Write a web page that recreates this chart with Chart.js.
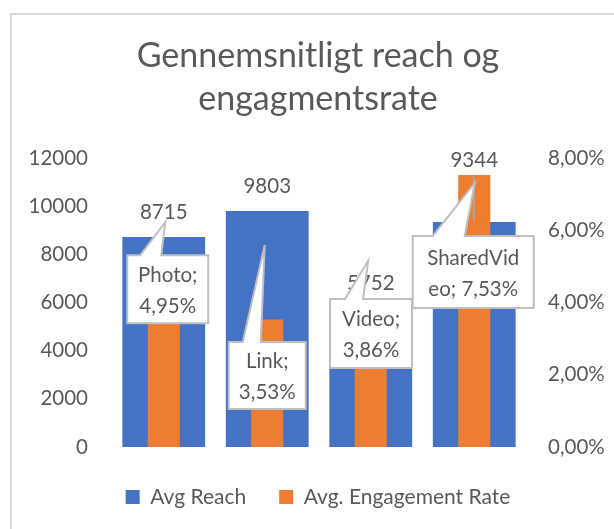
<!DOCTYPE html>
<html>
<head>
<meta charset="utf-8">
<script src="https://cdn.jsdelivr.net/npm/chart.js@4.4.1/dist/chart.umd.min.js"></script>
<style>
  html, body { margin: 0; padding: 0; background: #fff; overflow: hidden; }
  #chart { display: block; }
</style>
</head>
<body>
<canvas id="chart" width="614" height="529"></canvas>
<script>
// Chart data
const categories = ['Photo', 'Link', 'Video', 'SharedVideo'];
const avgReach = [8715, 9803, 5752, 9344];
const engagementRate = [4.95, 3.53, 3.86, 7.53]; // percent
const reachTicks = [0, 2000, 4000, 6000, 8000, 10000, 12000];
const rateTicks = [0, 2, 4, 6, 8];

const TEXT = '#595959';
const FONT = 'Lato';

// how far above each blue bar the value label sits
const reachLabelLift = [25, 25, 25, 62];

// callout boxes, relative to the top centre of each orange bar
const calloutLayout = [
  { dx: 4, dy: 21, w: 81, h: 68, tip: [1.5, -46], base: [13, 34], wrap: 70 },
  { dx: 0, dy: 56, w: 77, h: 67, tip: [-2.5, -74.5], base: [14, 32], wrap: 62 },
  { dx: 0.3, dy: 26, w: 82, h: 69, tip: [-2.5, -47], base: [15, 33], wrap: 70 },
  { dx: -1, dy: 97, w: 121, h: 72, tip: [0.5, 8], base: [20, 52], wrap: 96, leader: [1.7, 45] }
];

const pct = v => v.toFixed(2).replace('.', ',') + '%';

function wrapText(ctx, text, maxW) {
  const lines = [];
  let cur = '';
  text.split(' ').forEach(word => {
    const test = cur ? cur + ' ' + word : word;
    if (ctx.measureText(test).width <= maxW) {
      cur = test;
      return;
    }
    if (cur) lines.push(cur);
    cur = word;
    while (ctx.measureText(cur).width > maxW) {
      let n = cur.length - 1;
      while (n > 1 && ctx.measureText(cur.slice(0, n)).width > maxW) n--;
      lines.push(cur.slice(0, n));
      cur = cur.slice(n);
    }
  });
  if (cur) lines.push(cur);
  return lines;
}

const frame = {
  id: 'frame',
  beforeDraw(chart) {
    const { ctx } = chart;
    ctx.save();
    ctx.fillStyle = '#fff';
    ctx.fillRect(0, 0, chart.width, chart.height);
    ctx.strokeStyle = '#d9d9d9';
    ctx.lineWidth = 2;
    ctx.strokeRect(11, 14, 700, 600);
    ctx.restore();
  }
};

const labels = {
  id: 'labels',
  afterDatasetsDraw(chart) {
    const { ctx } = chart;
    ctx.save();
    ctx.font = `20.5px ${FONT}`;
    ctx.fillStyle = TEXT;
    ctx.textAlign = 'center';
    ctx.textBaseline = 'middle';

    // reach values above the blue bars
    chart.getDatasetMeta(0).data.forEach((bar, i) => {
      ctx.fillText(String(avgReach[i]), bar.x, bar.y - reachLabelLift[i]);
    });

    // callouts for the engagement rate
    chart.getDatasetMeta(1).data.forEach((bar, i) => {
      const c = calloutLayout[i];
      const cx = bar.x + c.dx, cy = bar.y + c.dy;
      const l = cx - c.w / 2, r = cx + c.w / 2, t = cy - c.h / 2, b = cy + c.h / 2;

      if (c.leader) {
        ctx.strokeStyle = '#a6a6a6';
        ctx.lineWidth = 2;
        ctx.beginPath();
        ctx.moveTo(bar.x - 0.5, bar.y + c.leader[0]);
        ctx.lineTo(bar.x - 0.5, bar.y + c.leader[1]);
        ctx.stroke();
      }

      ctx.beginPath();
      ctx.moveTo(l, t);
      ctx.lineTo(l + c.base[0], t);
      ctx.lineTo(bar.x + c.tip[0], bar.y + c.tip[1]);
      ctx.lineTo(l + c.base[1], t);
      ctx.lineTo(r, t);
      ctx.lineTo(r, b);
      ctx.lineTo(l, b);
      ctx.closePath();
      ctx.fillStyle = '#fff';
      ctx.fill();
      ctx.strokeStyle = '#bfbfbf';
      ctx.lineWidth = 2;
      ctx.stroke();

      const lines = wrapText(ctx, `${categories[i]}; ${pct(engagementRate[i])}`, c.wrap);
      ctx.fillStyle = TEXT;
      lines.forEach((line, k) => {
        ctx.fillText(line, cx, cy + 1.5 + (k - (lines.length - 1) / 2) * 31);
      });
    });
    ctx.restore();
  }
};

new Chart(document.getElementById('chart'), {
  type: 'bar',
  data: {
    labels: categories,
    datasets: [
      {
        label: 'Avg Reach',
        data: avgReach,
        backgroundColor: '#4472c4',
        yAxisID: 'y',
        grouped: false,
        order: 1,
        categoryPercentage: 1,
        barPercentage: 0.8
      },
      {
        label: 'Avg. Engagement Rate',
        data: engagementRate,
        backgroundColor: '#ed7d31',
        yAxisID: 'y1',
        grouped: false,
        order: 0,
        categoryPercentage: 1,
        barPercentage: 0.31
      }
    ]
  },
  options: {
    responsive: false,
    animation: false,
    layout: { padding: { left: 22, right: 0, top: 0, bottom: 11.5 } },
    plugins: {
      tooltip: { enabled: false },
      title: {
        display: true,
        text: ['Gennemsnitligt reach og', 'engagmentsrate'],
        color: TEXT,
        font: { family: FONT, size: 34, weight: 'normal', lineHeight: 42.4 / 34 },
        padding: { top: 35, bottom: 38.2 }
      },
      legend: {
        position: 'bottom',
        labels: {
          color: TEXT,
          font: { family: FONT, size: 21 },
          boxWidth: 14,
          boxHeight: 14,
          padding: 33,
          sort: (a, b) => a.datasetIndex - b.datasetIndex
        }
      }
    },
    scales: {
      x: {
        ticks: { display: false },
        grid: { display: false },
        border: { display: false },
        afterFit(scale) { scale.height = 6.5; }
      },
      y: {
        position: 'left',
        min: reachTicks[0],
        max: reachTicks[reachTicks.length - 1],
        afterBuildTicks(scale) { scale.ticks = reachTicks.map(v => ({ value: v })); },
        ticks: {
          color: TEXT,
          font: { family: FONT, size: 20.5 },
          padding: 16,
          callback: v => String(v)
        },
        grid: { display: false },
        border: { display: false },
        afterFit(scale) { scale.width = 90; }
      },
      y1: {
        position: 'right',
        min: rateTicks[0],
        max: rateTicks[rateTicks.length - 1],
        afterBuildTicks(scale) { scale.ticks = rateTicks.map(v => ({ value: v })); },
        ticks: {
          color: TEXT,
          font: { family: FONT, size: 20.5 },
          padding: 14,
          callback: v => pct(v)
        },
        grid: { display: false },
        border: { display: false },
        afterFit(scale) { scale.width = 88; }
      }
    }
  },
  plugins: [frame, labels]
});
</script>
</body>
</html>
